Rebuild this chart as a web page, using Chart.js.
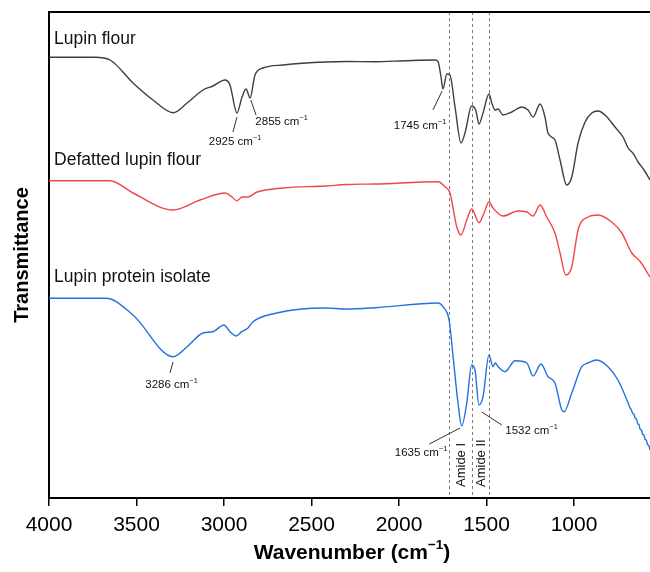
<!DOCTYPE html>
<html>
<head>
<meta charset="utf-8">
<script src="https://cdn.jsdelivr.net/npm/chart.js@4.4.1/dist/chart.umd.min.js"></script>
<style>
  html, body { margin: 0; padding: 0; background: #fff; }
</style>
</head>
<body>
<canvas id="ftir" width="650" height="572"></canvas>
<script>
// wavenumber ticks and marked bands
const tickValues = [4000, 3500, 3000, 2500, 2000, 1500, 1000];
const amideLines = [1714, 1583, 1486];

// Lupin flour (transmittance, offset, a.u.)
const flourWn = [4000, 3737, 3651, 3520, 3406, 3291, 3211, 3120, 3063, 2994, 2966, 2926, 2897, 2874, 2851, 2823, 2777,
  2663, 2423, 2300, 2137, 1966, 1794, 1777, 1760, 1749, 1727, 1709, 1680, 1646, 1623, 1585, 1562, 1543, 1520, 1486,
  1470, 1451, 1434, 1406, 1356, 1299, 1263, 1234, 1194, 1166, 1149, 1109, 1080, 1042, 1013, 977, 937, 899, 863, 823,
  766, 720, 691, 660, 634, 600, 566];
const flourT = [440.7, 440.7, 438, 415, 398, 385.3, 395, 408, 412, 418, 413, 385, 401, 409, 400, 423, 430,
  433, 436, 436.5, 436.3, 437.3, 438, 436.3, 421, 409, 424, 423, 391, 355, 365, 392, 388, 374, 385, 404,
  395, 388, 389, 383, 386, 391, 388, 381, 394, 381, 365, 358, 338, 313, 321, 355, 376, 385, 387, 383,
  371, 361, 350, 344, 336, 328, 318];

// Defatted lupin flour
const defattedWn = [4000, 3651, 3520, 3291, 3137, 2994, 2954, 2926, 2897, 2863, 2811, 2663, 2423, 2300, 2137, 1777,
  1737, 1709, 1670, 1646, 1613, 1585, 1543, 1514, 1486, 1463, 1406, 1320, 1270, 1234, 1194, 1156, 1109, 1080,
  1047, 1013, 977, 920, 863, 785, 727, 670, 620, 566];
const defattedT = [317.3, 317.3, 305, 288, 298, 305, 301, 297.3, 301, 301, 306, 310, 312, 313.5, 314, 316.3,
  311.3, 305, 271, 263, 278, 289, 275.3, 285, 296.3, 290, 282, 287, 286, 282, 293, 281, 265, 245,
  223, 231, 268, 281, 283, 276, 265, 245, 236, 221];

// Lupin protein isolate
const isolateWn = [4000, 3674, 3520, 3291, 3211, 3120, 3063, 3000, 2966, 2931, 2899, 2863, 2834, 2699, 2423, 2300,
  2137, 1777, 1749, 1714, 1691, 1663, 1642, 1613, 1585, 1566, 1543, 1520, 1486, 1463, 1450, 1434, 1394, 1337,
  1270, 1234, 1189, 1149, 1109, 1070, 1057, 1013, 956, 920, 870, 806, 749, 691, 680, 672, 665, 658, 650, 643,
  636, 629, 622, 615, 608, 601, 594, 587, 580, 573, 566];
const isolateT = [199.7, 199.7, 183, 141.3, 151.3, 165, 166.3, 173, 166.3, 162, 166.3, 170, 176.3, 185, 190, 189,
  190.3, 195, 191.3, 178, 141.3, 95, 72, 95, 133, 128, 93, 101.3, 143, 131.3, 135, 131.3, 126.3, 137.3,
  135, 122, 134, 121.3, 115, 88, 86.3, 105, 131.3, 135, 138, 131.3, 118, 95, 90, 88, 84.5, 84, 79.5, 79,
  74, 73.5, 68.5, 68, 63.5, 63, 58.5, 58, 53.5, 52.5, 48];

const seriesNames = ['Lupin flour', 'Defatted lupin flour', 'Lupin protein isolate'];

const FONT = "'Liberation Sans', Arial, sans-serif";

const toPoints = (wn, t) => wn.map((v, i) => ({ x: v, y: t[i] }));

// label placement (wavenumber, transmittance)
const seriesLabelPos = [[3971, 459], [3971, 338], [3971, 221]];
const peakNotes = [
  { num: '2925', at: [2937, 356], from: [2926, 381], to: [2949, 366] },
  { num: '2855', at: [2671, 376], from: [2847, 398], to: [2817, 383] },
  { num: '1745', at: [1880, 372], from: [1754, 407], to: [1806, 388] },
  { num: '3286', at: [3300, 113], from: [3291, 136], to: [3309, 125] },
  { num: '1635', at: [1874, 45], from: [1651, 70], to: [1827, 54] },
  { num: '1532', at: [1243, 67], from: [1527, 86], to: [1413, 73] }
];
const amideNotes = [['Amide I', 1642], ['Amide II', 1527]];

function drawParts(ctx, parts, cx, cy, size, weight) {
  const supSize = size * 0.64;
  let total = 0;
  parts.forEach(p => {
    ctx.font = weight + ' ' + (p.sup ? supSize : size) + 'px ' + FONT;
    p.w = ctx.measureText(p.t).width;
    total += p.w;
  });
  let x = cx - total / 2;
  ctx.textAlign = 'left';
  ctx.textBaseline = 'middle';
  parts.forEach(p => {
    ctx.font = weight + ' ' + (p.sup ? supSize : size) + 'px ' + FONT;
    ctx.fillText(p.t, x, p.sup ? cy - size * 0.36 : cy);
    x += p.w;
  });
}

const overlay = {
  id: 'overlay',
  beforeDatasetsDraw(chart) {
    const { ctx, chartArea, scales: { x } } = chart;
    ctx.save();
    ctx.strokeStyle = '#7a7a7a';
    ctx.lineWidth = 1;
    ctx.setLineDash([3, 3]);
    amideLines.forEach(wn => {
      const px = Math.round(x.getPixelForValue(wn)) + 0.5;
      ctx.beginPath();
      ctx.moveTo(px, chartArea.top);
      ctx.lineTo(px, chartArea.bottom);
      ctx.stroke();
    });
    ctx.restore();
  },
  afterDraw(chart) {
    const { ctx, chartArea, scales: { x, y } } = chart;
    ctx.save();
    // top frame line
    ctx.strokeStyle = '#000';
    ctx.lineWidth = 2;
    ctx.beginPath();
    ctx.moveTo(chartArea.left - 1, chartArea.top);
    ctx.lineTo(chartArea.right, chartArea.top);
    ctx.stroke();

    // series names
    ctx.fillStyle = '#111';
    ctx.font = '17.5px ' + FONT;
    ctx.textAlign = 'left';
    ctx.textBaseline = 'middle';
    seriesNames.forEach((name, i) => {
      const [wn, t] = seriesLabelPos[i];
      ctx.fillText(name, x.getPixelForValue(wn), y.getPixelForValue(t));
    });

    // peak notes with leader lines
    ctx.strokeStyle = '#333';
    ctx.lineWidth = 1;
    peakNotes.forEach(n => {
      ctx.beginPath();
      ctx.moveTo(x.getPixelForValue(n.from[0]), y.getPixelForValue(n.from[1]));
      ctx.lineTo(x.getPixelForValue(n.to[0]), y.getPixelForValue(n.to[1]));
      ctx.stroke();
      ctx.fillStyle = '#111';
      drawParts(ctx, [{ t: n.num + ' cm' }, { t: '\u22121', sup: true }],
        x.getPixelForValue(n.at[0]), y.getPixelForValue(n.at[1]), 11.5, 'normal');
    });

    // amide band names
    ctx.font = '13px ' + FONT;
    amideNotes.forEach(([txt, wn]) => {
      ctx.save();
      ctx.translate(x.getPixelForValue(wn), chartArea.bottom - 11);
      ctx.rotate(-Math.PI / 2);
      ctx.textAlign = 'left';
      ctx.textBaseline = 'middle';
      ctx.fillText(txt, 0, 0);
      ctx.restore();
    });

    // x axis title
    ctx.fillStyle = '#000';
    drawParts(ctx, [{ t: 'Wavenumber (cm' }, { t: '\u22121', sup: true }, { t: ')' }],
      352, 553, 21, 'bold');
    ctx.restore();
  }
};

new Chart(document.getElementById('ftir'), {
  type: 'line',
  data: {
    datasets: [
      { label: seriesNames[0], data: toPoints(flourWn, flourT), borderColor: '#3f3f3f' },
      { label: seriesNames[1], data: toPoints(defattedWn, defattedT), borderColor: '#f04646' },
      { label: seriesNames[2], data: toPoints(isolateWn, isolateT), borderColor: '#2370e2' }
    ]
  },
  options: {
    responsive: false,
    animation: false,
    parsing: false,
    layout: { padding: { top: 12, right: 0, bottom: 0, left: 0 } },
    elements: {
      point: { radius: 0 },
      line: { borderWidth: 1.4, cubicInterpolationMode: 'monotone', fill: false }
    },
    plugins: { legend: { display: false }, tooltip: { enabled: false } },
    scales: {
      x: {
        type: 'linear',
        reverse: true,
        min: 566,
        max: 4000,
        afterBuildTicks: axis => { axis.ticks = tickValues.map(v => ({ value: v })); },
        afterFit: axis => { axis.height = 74; },
        border: { display: true, color: '#000', width: 2 },
        grid: { display: true, drawOnChartArea: false, drawTicks: true, tickLength: 8, color: '#000', lineWidth: 1.5 },
        ticks: {
          color: '#000', padding: 7, maxRotation: 0,
          font: { family: FONT, size: 21 },
          callback: v => String(v)
        }
      },
      y: {
        min: 0,
        max: 486,
        afterFit: axis => { axis.width = 49; },
        border: { display: true, color: '#000', width: 2 },
        grid: { display: false },
        ticks: { display: false },
        title: {
          display: true,
          text: 'Transmittance',
          color: '#000',
          padding: { top: 10, bottom: 0 },
          font: { family: FONT, size: 20, weight: 'bold' }
        }
      }
    }
  },
  plugins: [overlay]
});
</script>
</body>
</html>
